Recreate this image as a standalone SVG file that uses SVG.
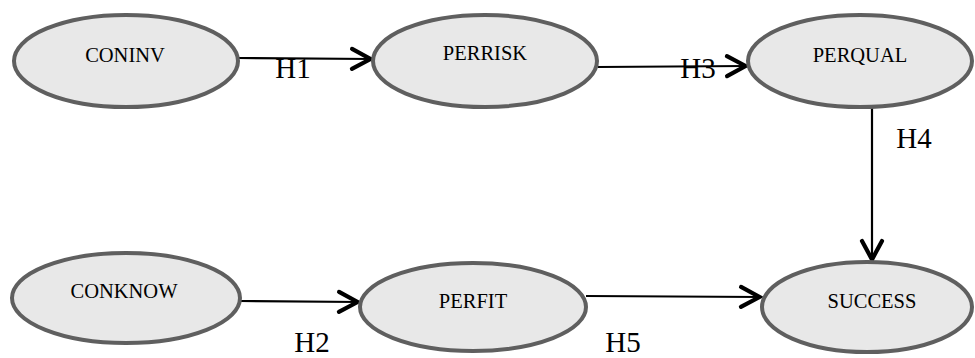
<svg xmlns="http://www.w3.org/2000/svg" width="975" height="358" viewBox="0 0 975 358">
<style>
.node ellipse{fill:#e8e8e8;stroke:#5f5f5f;stroke-width:4}
.node text{font-family:"Times New Roman",Times,"Liberation Serif","DejaVu Serif",serif;font-size:20.5px;fill:#000;text-anchor:middle}
.edge{stroke:#000;stroke-width:2.2;fill:none}
.lbl{font-family:"Times New Roman",Times,"Liberation Serif","DejaVu Serif",serif;font-size:29px;fill:#000;text-anchor:middle}
</style>
<defs>
<marker id="arr" markerUnits="userSpaceOnUse" viewBox="-26 -14 30 28" markerWidth="30" markerHeight="28" refX="0" refY="0" orient="auto">
<path d="M-20,-10 L-1.5,0 L-20,10" fill="none" stroke="#000" stroke-width="4.2" stroke-linecap="round" stroke-linejoin="miter"/>
</marker>
</defs>
<rect width="975" height="358" fill="#fff"/>
<g id="connectors">
<line class="edge" x1="238" y1="58" x2="372" y2="59" marker-end="url(#arr)"/>
<line class="edge" x1="598" y1="67" x2="747" y2="66" marker-end="url(#arr)"/>
<line class="edge" x1="872" y1="107" x2="872" y2="261" marker-end="url(#arr)"/>
<line class="edge" x1="240" y1="301" x2="359" y2="302" marker-end="url(#arr)"/>
<line class="edge" x1="586" y1="296" x2="761" y2="297" marker-end="url(#arr)"/>
<text class="lbl" x="293" y="78">H1</text>
<text class="lbl" x="698" y="78">H3</text>
<text class="lbl" x="914" y="148">H4</text>
<text class="lbl" x="312" y="352">H2</text>
<text class="lbl" x="623" y="352">H5</text>
</g>
<g id="coninv" class="node"><ellipse cx="126" cy="61" rx="112" ry="46"/><text x="125" y="62">CONINV</text></g>
<g id="perrisk" class="node"><ellipse cx="485" cy="61" rx="112" ry="46"/><text x="485" y="60">PERRISK</text></g>
<g id="perqual" class="node"><ellipse cx="860" cy="61" rx="112" ry="46"/><text x="860" y="62">PERQUAL</text></g>
<g id="conknow" class="node"><ellipse cx="126" cy="298" rx="114" ry="45"/><text x="124" y="298">CONKNOW</text></g>
<g id="perfit" class="node"><ellipse cx="473" cy="307" rx="113" ry="44"/><text x="473" y="308">PERFIT</text></g>
<g id="success" class="node"><ellipse cx="867" cy="307" rx="105" ry="45"/><text x="872" y="308">SUCCESS</text></g>
</svg>
